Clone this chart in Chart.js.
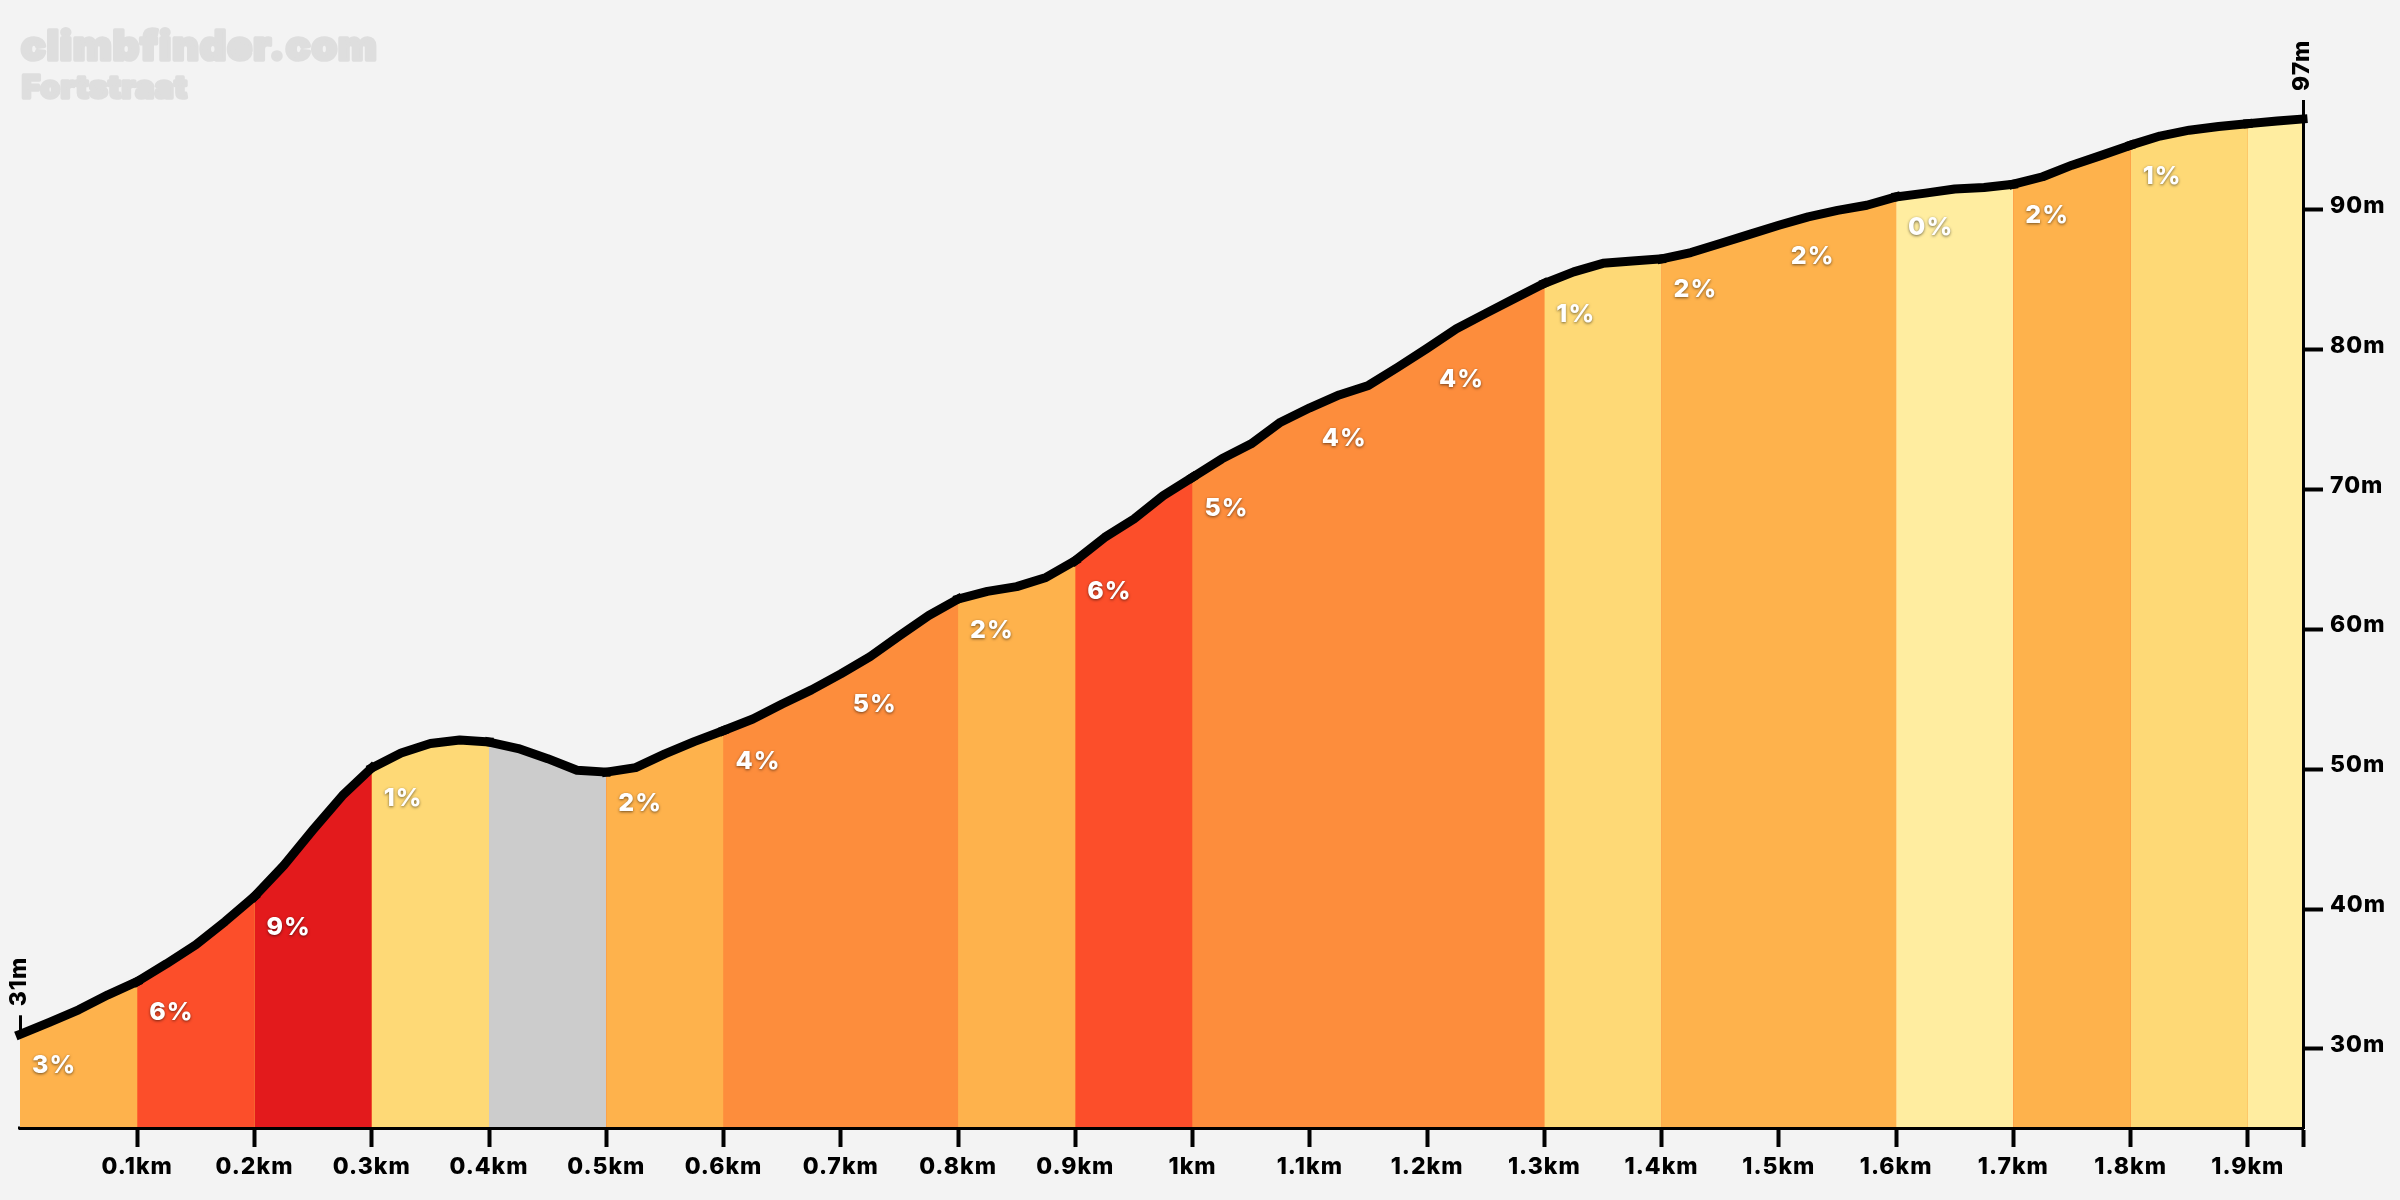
<!DOCTYPE html>
<html lang="en">
<head>
    <meta charset="UTF-8">
    <title>climbfinder.com - Fortstraat</title>
    <script src="https://cdn.jsdelivr.net/npm/chart.js"></script>
    <style>
        html, body {
            margin: 0;
            padding: 0;
            background: #f3f3f3;
        }
        canvas {
            display: block;
        }
    </style>
</head>
<body>
    <canvas id="climbChart" width="2400" height="1200"></canvas>

    <script>
        // Profile: distance in km, elevation in m
        const distances = [
            0, 0.025, 0.05, 0.075, 0.1, 0.125, 0.15, 0.175, 0.2, 0.225,
            0.25, 0.275, 0.3, 0.325, 0.35, 0.375, 0.4, 0.425, 0.45, 0.475,
            0.5, 0.525, 0.55, 0.575, 0.6, 0.625, 0.65, 0.675, 0.7, 0.725,
            0.75, 0.775, 0.8, 0.825, 0.85, 0.875, 0.9, 0.925, 0.95, 0.975,
            1, 1.025, 1.05, 1.075, 1.1, 1.125, 1.15, 1.175, 1.2, 1.225,
            1.25, 1.275, 1.3, 1.325, 1.35, 1.375, 1.4, 1.425, 1.45, 1.475,
            1.5, 1.525, 1.55, 1.575, 1.6, 1.625, 1.65, 1.675, 1.7, 1.725,
            1.75, 1.775, 1.8, 1.825, 1.85, 1.875, 1.9, 1.925, 1.947
        ];
        const elevations = [
            31.05, 31.9, 32.8, 33.87, 34.82, 36.1, 37.45, 39.12, 40.91, 43.13,
            45.68, 48.12, 50.1, 51.17, 51.84, 52.1, 51.95, 51.48, 50.76, 49.93,
            49.8, 50.12, 51.1, 51.98, 52.77, 53.6, 54.67, 55.68, 56.82, 58.05,
            59.55, 61.0, 62.17, 62.72, 63.06, 63.72, 64.92, 66.58, 67.9, 69.57,
            70.88, 72.2, 73.27, 74.82, 75.85, 76.77, 77.45, 78.75, 80.1, 81.5,
            82.6, 83.68, 84.75, 85.57, 86.18, 86.35, 86.5, 86.95, 87.6, 88.25,
            88.9, 89.5, 89.97, 90.33, 90.93, 91.2, 91.5, 91.6, 91.84, 92.37,
            93.2, 93.9, 94.63, 95.28, 95.7, 95.97, 96.17, 96.35, 96.5
        ];

        // One entry per 0.1km stretch, the last one is the short tail
        const bandStarts = [
            0, 0.1, 0.2, 0.3, 0.4, 0.5, 0.6, 0.7, 0.8, 0.9,
            1, 1.1, 1.2, 1.3, 1.4, 1.5, 1.6, 1.7, 1.8, 1.9
        ];
        const bandGrades = [3, 6, 9, 1, -2, 2, 4, 5, 2, 6, 5, 4, 4, 1, 2, 2, 0, 2, 1, 0];

        const xTicks = [
            0.1, 0.2, 0.3, 0.4, 0.5, 0.6, 0.7, 0.8, 0.9, 1,
            1.1, 1.2, 1.3, 1.4, 1.5, 1.6, 1.7, 1.8, 1.9
        ];
        const yTicks = [30, 40, 50, 60, 70, 80, 90];

        const lastKm = distances[distances.length - 1];
        const topElevation = elevations[elevations.length - 1];
        const fontFamily = 'Inter, "Noto Sans", sans-serif';

        function gradeColor(grade) {
            if (grade < 0) return '#cccccc';
            if (grade < 1) return '#ffeda0';
            if (grade < 2) return '#fed976';
            if (grade < 4) return '#feb24c';
            if (grade < 6) return '#fd8d3c';
            if (grade < 8) return '#fc4e2a';
            return '#e31a1c';
        }

        function bandIndex(km) {
            let i = bandStarts.length - 1;
            while (i > 0 && km < bandStarts[i] - 1e-6) i--;
            return i;
        }

        // Grade labels, start and end markers, y labels and the watermark
        const annotations = {
            id: 'annotations',
            beforeDraw(chart) {
                // the original font runs wider than Inter
                chart.ctx.letterSpacing = '1px';
            },
            afterDatasetsDraw(chart) {
                const { ctx, scales } = chart;
                const x = scales.x;
                const y = scales.y;

                ctx.save();
                ctx.textBaseline = 'middle';

                // grade labels sit just under the line at the start of each stretch
                ctx.font = '800 25px ' + fontFamily;
                ctx.textAlign = 'left';
                ctx.fillStyle = '#ffffff';
                ctx.shadowColor = 'rgba(0, 0, 0, 0.55)';
                ctx.shadowBlur = 3;
                ctx.shadowOffsetY = 1;
                bandGrades.forEach((grade, i) => {
                    if (grade < 0 || i === bandGrades.length - 1) return;
                    const start = elevations[distances.indexOf(bandStarts[i])];
                    ctx.fillText(grade + '%', x.getPixelForValue(bandStarts[i]) + 12, y.getPixelForValue(start) + 31);
                });
                ctx.shadowColor = 'transparent';
                ctx.shadowBlur = 0;
                ctx.shadowOffsetY = 0;

                // y labels ride a little above their ticks
                ctx.fillStyle = '#000000';
                ctx.font = '800 23px ' + fontFamily;
                yTicks.forEach(value => {
                    ctx.fillText(value + 'm', x.right + 27, y.getPixelForValue(value) - 4);
                });

                // start and end markers
                [[0, elevations[0]], [lastKm, topElevation]].forEach(([km, metres]) => {
                    const px = x.getPixelForValue(km);
                    const py = y.getPixelForValue(metres);
                    ctx.fillRect(px - 1, py - 19, 3, 19);
                    ctx.save();
                    ctx.translate(px - 1, py - 28);
                    ctx.rotate(-Math.PI / 2);
                    ctx.textAlign = 'left';
                    ctx.fillText(Math.round(metres) + 'm', 0, 0);
                    ctx.restore();
                });

                // little stub where the x axis starts
                ctx.fillRect(x.left - 2, x.top - 1.5, 2, 3);

                // watermark
                ctx.textAlign = 'left';
                ctx.textBaseline = 'alphabetic';
                ctx.fillStyle = '#dedede';
                ctx.strokeStyle = '#dedede';
                ctx.lineJoin = 'round';
                ctx.lineWidth = 3.5;
                ctx.font = '900 41px ' + fontFamily;
                ctx.fillText('climbfinder.com', 21, 60);
                ctx.strokeText('climbfinder.com', 21, 60);
                ctx.font = '900 31px ' + fontFamily;
                ctx.fillText('Fortstraat', 22, 98);
                ctx.strokeText('Fortstraat', 22, 98);

                ctx.restore();
            }
        };

        const profile = distances.map((km, i) => ({ x: km, y: elevations[i] }));

        new Chart(document.getElementById('climbChart').getContext('2d'), {
            type: 'line',
            data: {
                datasets: [
                    {
                        data: profile,
                        borderColor: '#000000',
                        borderWidth: 9,
                        borderCapStyle: 'square',
                        borderJoinStyle: 'round',
                        pointRadius: 0,
                        tension: 0,
                        fill: 'start',
                        clip: false,
                        order: 0,
                        segment: {
                            backgroundColor: seg => gradeColor(bandGrades[bandIndex(seg.p0.parsed.x)])
                        }
                    },
                    {
                        // plain layer below, so band joins do not show the page through
                        data: profile,
                        borderWidth: 0,
                        pointRadius: 0,
                        tension: 0,
                        fill: 'start',
                        backgroundColor: '#fd8d3c',
                        order: 1
                    }
                ]
            },
            options: {
                responsive: false,
                animation: false,
                layout: { padding: { left: 20, top: 119 } },
                plugins: {
                    legend: { display: false },
                    tooltip: { enabled: false }
                },
                scales: {
                    x: {
                        type: 'linear',
                        min: 0,
                        max: lastKm,
                        afterBuildTicks: axis => { axis.ticks = xTicks.concat(lastKm).map(value => ({ value })); },
                        afterFit: axis => { axis.height = 72; },
                        grid: { drawOnChartArea: false, tickLength: 19, tickWidth: 4, tickColor: '#000000', z: 1 },
                        border: { color: '#000000', width: 3, z: 1 },
                        ticks: {
                            autoSkip: false,
                            maxRotation: 0,
                            padding: 6,
                            color: '#000000',
                            font: { family: fontFamily, size: 23, weight: '800' },
                            callback: value => (value === lastKm ? '' : value + 'km')
                        }
                    },
                    y: {
                        position: 'right',
                        min: 24.35,
                        max: topElevation,
                        afterBuildTicks: axis => { axis.ticks = yTicks.map(value => ({ value })); },
                        afterFit: axis => { axis.width = 97; },
                        grid: { drawOnChartArea: false, tickLength: 20, tickWidth: 4, tickColor: '#000000', z: 1 },
                        border: { color: '#000000', width: 3, z: 1 },
                        ticks: { display: false }
                    }
                }
            },
            plugins: [annotations]
        });
    </script>
</body>
</html>
